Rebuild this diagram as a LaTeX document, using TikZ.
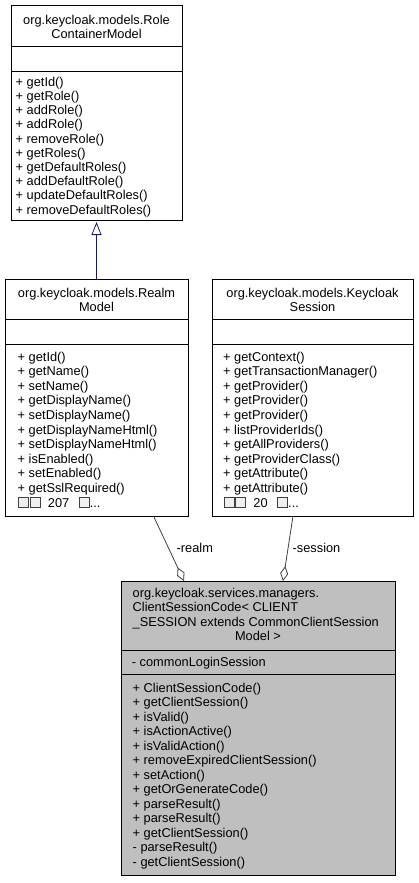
\documentclass[tikz,border=0pt]{standalone}
\usepackage{fontspec}
\setmainfont{Liberation Sans}
\usetikzlibrary{arrows.meta,calc}
\definecolor{edgeblue}{HTML}{191970}
\definecolor{edgegray}{HTML}{404040}
\definecolor{focusfill}{HTML}{BFBFBF}
\newcommand\missglyph{\kern0.3pt{\setlength\fboxsep{0.4pt}\setlength\fboxrule{0.7pt}\fcolorbox{black!75}{black!6}{\rule{0pt}{8.8pt}\rule{8.8pt}{0pt}}}\kern0.3pt}
\tikzset{
  classbox/.style={draw=black, line width=0.8pt, fill=white, inner sep=0pt, outer sep=0pt, anchor=north west},
  focusbox/.style={classbox, fill=focusfill},
  ttl/.style={font=\fontsize{12.8}{14.2}\selectfont, align=center, inner sep=0pt},
  ttlleft/.style={font=\fontsize{12.8}{14.2}\selectfont, align=left, inner sep=0pt, anchor=west},
  opsA/.style={font=\fontsize{12.8}{14.2}\selectfont, align=left, inner sep=0pt, anchor=west},
  opsB/.style={font=\fontsize{12.8}{14.6}\selectfont, align=left, inner sep=0pt, anchor=west},
  opsC/.style={font=\fontsize{12.8}{14.5}\selectfont, align=left, inner sep=0pt, anchor=west},
  divider/.style={draw=black, line width=0.8pt},
  inherit/.style={draw=edgeblue, line width=0.8pt, -{Triangle[open, length=13pt, width=10pt, fill=white]}},
  aggr/.style={draw=edgegray, line width=0.8pt, -{Diamond[open, length=15pt, width=8pt, fill=white]}},
  elabel/.style={font=\fontsize{12.8}{14}\selectfont, inner sep=0pt, anchor=west}
}
\begin{document}
\begin{tikzpicture}[x=1pt, y=-1pt]
\path[use as bounding box] (0,0) rectangle (418,883);

% RoleContainerModel
\node[classbox, minimum width=171pt, minimum height=215pt] (role) at (11,5) {};
\draw[divider] (11,46) -- (182,46);
\draw[divider] (11,71) -- (182,71);
\node[ttl] (roleT) at (96.5,27.3) {org.keycloak.models.Role\\ContainerModel};
\node[opsA] (roleO) at (15.5,146.8) {+ getId()\\+ getRole()\\+ addRole()\\+ addRole()\\+ removeRole()\\+ getRoles()\\+ getDefaultRoles()\\+ addDefaultRole()\\+ updateDefaultRoles()\\+ removeDefaultRoles()};

% RealmModel
\node[classbox, minimum width=183pt, minimum height=237pt] (realm) at (5,279) {};
\draw[divider] (5,319) -- (188,319);
\draw[divider] (5,344) -- (188,344);
\node[ttl] (realmT) at (96.5,300) {org.keycloak.models.Realm\\Model};
\node[opsB] (realmO) at (17.5,430) {+ getId()\\+ getName()\\+ setName()\\+ getDisplayName()\\+ setDisplayName()\\+ getDisplayNameHtml()\\+ setDisplayNameHtml()\\+ isEnabled()\\+ setEnabled()\\+ getSslRequired()\\\missglyph\missglyph\hspace{7pt}207\hspace{9pt}\missglyph...};

% KeycloakSession
\node[classbox, minimum width=201pt, minimum height=237pt] (kc) at (212,279) {};
\draw[divider] (212,319) -- (413,319);
\draw[divider] (212,344) -- (413,344);
\node[ttl] (kcT) at (312.5,300) {org.keycloak.models.Keycloak\\Session};
\node[opsB] (kcO) at (223,430) {+ getContext()\\+ getTransactionManager()\\+ getProvider()\\+ getProvider()\\+ getProvider()\\+ listProviderIds()\\+ getAllProviders()\\+ getProviderClass()\\+ getAttribute()\\+ getAttribute()\\\missglyph\missglyph\hspace{7pt}20\hspace{9pt}\missglyph...};

% ClientSessionCode
\node[focusbox, minimum width=274pt, minimum height=294pt] (focus) at (121,581) {};
\draw[divider] (121,650) -- (395,650);
\draw[divider] (121,674) -- (395,674);
\node[ttlleft] (focusT) at (132.5,608.5) {org.keycloak.services.managers.\\ClientSessionCode< CLIENT\\\_SESSION extends CommonClientSession};
\node[ttl] (focusT2) at (258,636) {Model >};
\node[opsC, anchor=west] (focusA) at (131.7,663.3) {- commonLoginSession};
\node[opsC] (focusO) at (132.5,775.8) {+ ClientSessionCode()\\+ getClientSession()\\+ isValid()\\+ isActionActive()\\+ isValidAction()\\+ removeExpiredClientSession()\\+ setAction()\\+ getOrGenerateCode()\\+ parseResult()\\+ parseResult()\\+ getClientSession()\\- parseResult()\\- getClientSession()};

% connectors
\draw[inherit] (realm.north) -- ($(role.south)+(0,2)$);
\draw[aggr] ($(realm.south west)+(148.5,0)$) -- ($(focus.north west)+(63,0)$);
\draw[aggr] ($(kc.south west)+(81,0)$) -- ($(focus.north west)+(162,0)$);
\node[elabel] (lrealm) at (176.5,547.7) {-realm};
\node[elabel] (lsession) at (292.5,547.7) {-session};
\end{tikzpicture}
\end{document}
